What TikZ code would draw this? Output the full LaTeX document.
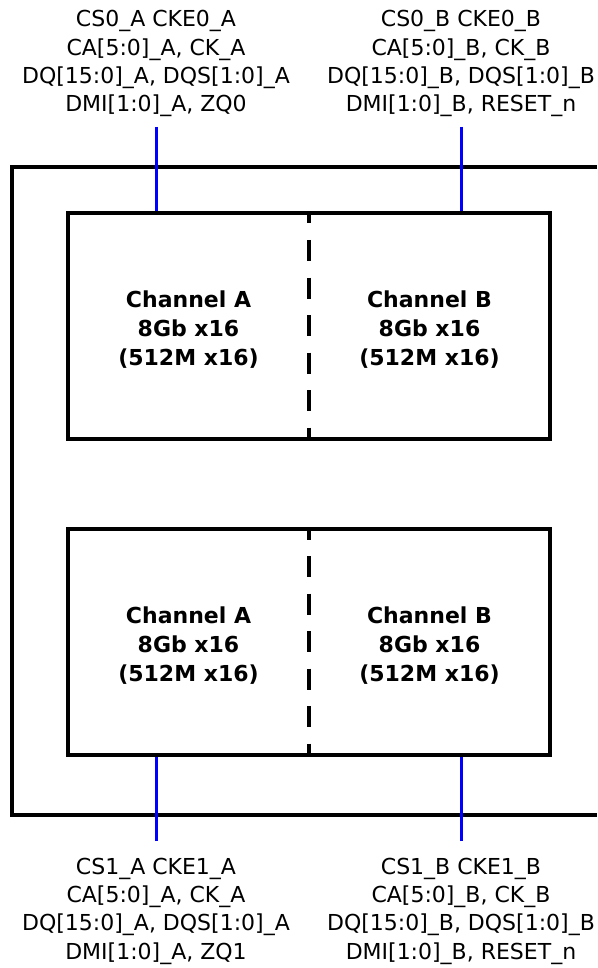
\documentclass[tikz,border=0pt]{standalone}
\usepackage{fontspec}
\setmainfont{DejaVu Sans}
\usetikzlibrary{positioning}
\tikzset{
    die/.style =    {rectangle,
                    fill=none,
                    draw=black,
                    line width=3.5pt,
                    minimum width=482pt,
                    minimum height=226pt,
                    inner sep=0pt,
                    outer sep=0pt},
    chan/.style =   {font=\fontsize{22}{29}\selectfont\bfseries,
                    align=center,
                    text=black,
                    inner sep=0pt},
    pins/.style =   {font=\fontsize{22}{28.3}\selectfont,
                    align=center,
                    text=black,
                    inner sep=0pt},
    -,
    bus/.style =    {draw=blue,
                    line width=3pt},
    split/.style =  {draw=black,
                    line width=3.5pt,
                    dash pattern=on 21pt off 16.5pt,
                    dash phase=10.5pt},
    package/.style = {draw=black,
                    line width=3.5pt},
    node distance=90pt}

\begin{document}
\begin{tikzpicture}[x=1pt,y=-1pt]
        \useasboundingbox (0,0) rectangle (597,968);

        \draw[package] (597,167) -- (12,167) -- (12,815) -- (597,815);

        \node[die]          (die0) at (309,326)     {};
        \node[die]          (die1) [below=of die0]  {};

        \node[chan,xshift=-120.5pt,yshift=-3.5pt] (chA0) at (die0.center) {Channel A\\8Gb x16\\(512M x16)};
        \node[chan,xshift=120.5pt,yshift=-3.5pt]  (chB0) at (die0.center) {Channel B\\8Gb x16\\(512M x16)};
        \node[chan,xshift=-120.5pt,yshift=-3.5pt] (chA1) at (die1.center) {Channel A\\8Gb x16\\(512M x16)};
        \node[chan,xshift=120.5pt,yshift=-3.5pt]  (chB1) at (die1.center) {Channel B\\8Gb x16\\(512M x16)};

        \draw[split] (die0.north) -- (die0.south);
        \draw[split] (die1.north) -- (die1.south);

        \coordinate (padA0) at (156,127);
        \coordinate (padB0) at (461,127);
        \coordinate (padA1) at (156,841);
        \coordinate (padB1) at (461,841);

        \node[pins]         (pinsA0) [above=10pt of padA0]   {CS0\_A CKE0\_A\\CA[5:0]\_A, CK\_A\\DQ[15:0]\_A, DQS[1:0]\_A\\DMI[1:0]\_A, ZQ0};
        \node[pins]         (pinsB0) [above=10pt of padB0]   {CS0\_B CKE0\_B\\CA[5:0]\_B, CK\_B\\DQ[15:0]\_B, DQS[1:0]\_B\\DMI[1:0]\_B, RESET\_n};
        \node[pins]         (pinsA1) [below=16.7pt of padA1] {CS1\_A CKE1\_A\\CA[5:0]\_A, CK\_A\\DQ[15:0]\_A, DQS[1:0]\_A\\DMI[1:0]\_A, ZQ1};
        \node[pins]         (pinsB1) [below=16.7pt of padB1] {CS1\_B CKE1\_B\\CA[5:0]\_B, CK\_B\\DQ[15:0]\_B, DQS[1:0]\_B\\DMI[1:0]\_B, RESET\_n};

        \path [bus]     (padA0) edge [shorten >=1.75pt] (padA0 |- die0.north)
                        (padB0) edge [shorten >=1.75pt] (padB0 |- die0.north)
                        (padA1) edge [shorten >=1.75pt] (padA1 |- die1.south)
                        (padB1) edge [shorten >=1.75pt] (padB1 |- die1.south);
\end{tikzpicture}
\end{document}
